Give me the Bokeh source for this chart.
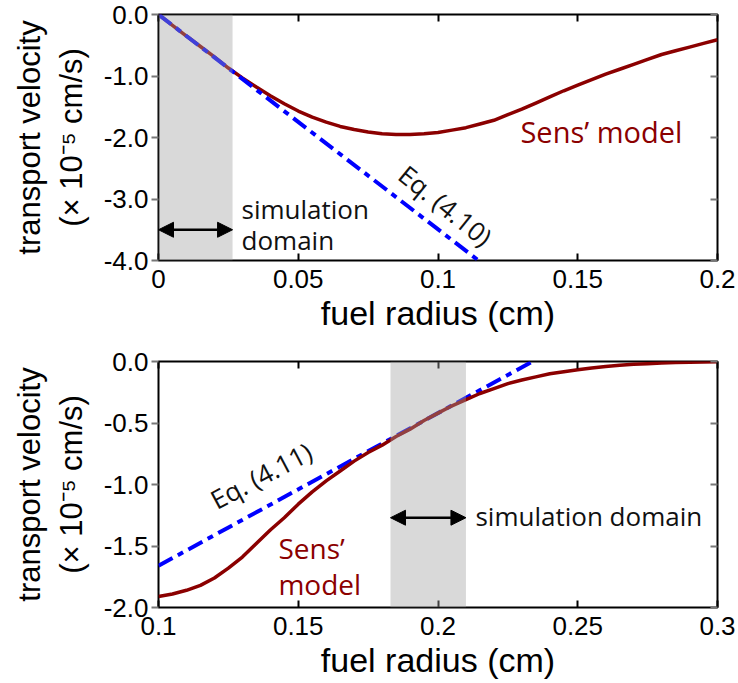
import math
from bokeh.plotting import figure
from bokeh.layouts import column
from bokeh.models import (Range1d, FixedTicker, NumeralTickFormatter, LinearAxis,
                          BoxAnnotation, Arrow, NormalHead)
from bokeh.core.properties import value
from bokeh.embed import file_html
from bokeh.resources import INLINE

# ---------------- upper panel: small radii ----------------
r_top = [0.000, 0.005, 0.010, 0.015, 0.020, 0.025, 0.030, 0.035, 0.040, 0.045, 0.050,
         0.055, 0.060, 0.065, 0.070, 0.075, 0.080, 0.085, 0.090, 0.095, 0.100,
         0.105, 0.110, 0.115, 0.120, 0.125, 0.130, 0.135, 0.140, 0.145, 0.150,
         0.155, 0.160, 0.165, 0.170, 0.175, 0.180, 0.185, 0.190, 0.195, 0.200]
sens_top = [0.00, -0.175, -0.35, -0.52, -0.69, -0.87, -1.03, -1.18, -1.32, -1.45, -1.57,
            -1.67, -1.75, -1.82, -1.87, -1.91, -1.94, -1.95, -1.95, -1.94, -1.92,
            -1.88, -1.84, -1.78, -1.72, -1.63, -1.54, -1.44, -1.34, -1.24, -1.15,
            -1.06, -0.97, -0.89, -0.81, -0.73, -0.65, -0.59, -0.53, -0.47, -0.41]
eq410_r = [0.0, 0.1145]
eq410_v = [0.0, -4.0]
domain_top = [0.0, 0.0265]
x_ticks_top = [0, 0.05, 0.1, 0.15, 0.2]
y_ticks_top = [0, -1, -2, -3, -4]

# ---------------- lower panel: large radii ----------------
r_bot = [0.100, 0.105, 0.110, 0.115, 0.120, 0.125, 0.130, 0.135, 0.140, 0.145, 0.150,
         0.155, 0.160, 0.165, 0.170, 0.175, 0.180, 0.185, 0.190, 0.195, 0.200,
         0.205, 0.210, 0.215, 0.220, 0.225, 0.230, 0.235, 0.240, 0.245, 0.250,
         0.255, 0.260, 0.265, 0.270, 0.275, 0.280, 0.285, 0.290, 0.295, 0.300]
sens_bot = [-1.91, -1.89, -1.86, -1.82, -1.76, -1.68, -1.59, -1.48, -1.37, -1.27, -1.16,
            -1.06, -0.97, -0.89, -0.81, -0.74, -0.68, -0.61, -0.55, -0.48, -0.42,
            -0.36, -0.31, -0.26, -0.22, -0.18, -0.15, -0.125, -0.10, -0.083, -0.067,
            -0.052, -0.040, -0.031, -0.023, -0.018, -0.013, -0.009, -0.006, -0.004, -0.003]
eq411_r = [0.10, 0.2338]
eq411_v = [-1.66, 0.0]
domain_bot = [0.183, 0.21]
x_ticks_bot = [0.1, 0.15, 0.2, 0.25, 0.3]
y_ticks_bot = [0, -0.5, -1.0, -1.5, -2.0]

RED = "#8B0000"
BLUE = "#0000FF"
AXIS_FONT = "Liberation Sans"
NOTE_FONT = "Open Sans"


def make_panel(height, top, bottom, xr, yr, xticks, yticks):
    p = figure(width=738, height=height, x_range=Range1d(*xr), y_range=Range1d(*yr),
               output_backend="svg", toolbar_location=None,
               min_border_left=158, min_border_right=21,
               min_border_top=top, min_border_bottom=bottom)
    p.grid.visible = False
    p.outline_line_color = "black"
    p.outline_line_width = 2
    p.background_fill_color = "white"
    p.border_fill_color = "white"

    xa = p.xaxis[0]
    xa.ticker = FixedTicker(ticks=xticks)
    xa.formatter = NumeralTickFormatter(format="0.[00]")
    xa.major_tick_in = 7
    xa.major_tick_out = 0
    xa.major_tick_line_color = "black"
    xa.major_tick_line_width = 2
    xa.minor_tick_line_color = None
    xa.axis_line_color = None
    xa.major_label_text_font = AXIS_FONT
    xa.major_label_text_font_size = "26px"
    xa.major_label_text_color = "black"
    xa.major_label_standoff = 9
    xa.axis_label = "fuel radius (cm)"
    xa.axis_label_text_font = AXIS_FONT
    xa.axis_label_text_font_size = "34px"
    xa.axis_label_text_font_style = "normal"
    xa.axis_label_text_color = "black"
    xa.axis_label_standoff = 3

    ya = p.yaxis[0]
    ya.ticker = FixedTicker(ticks=yticks)
    ya.formatter = NumeralTickFormatter(format="0.0")
    ya.major_tick_in = 0
    ya.major_tick_out = 7
    ya.major_tick_line_color = "#777777"
    ya.major_tick_line_width = 2
    ya.minor_tick_line_color = None
    ya.axis_line_color = None
    ya.major_label_text_font = AXIS_FONT
    ya.major_label_text_font_size = "26px"
    ya.major_label_text_color = "black"
    ya.major_label_standoff = 3
    ya.axis_label = "transport velocity\n(\u00d7 10\u207b\u2075 cm/s)"
    ya.axis_label_text_font = AXIS_FONT
    ya.axis_label_text_font_size = "31px"
    ya.axis_label_text_font_style = "normal"
    ya.axis_label_text_color = "black"
    ya.axis_label_standoff = 12

    # mirrored tick marks on the top and right edges of the frame (no labels)
    top_axis = LinearAxis(ticker=FixedTicker(ticks=xticks), axis_line_color=None,
                          major_tick_in=7, major_tick_out=0, major_tick_line_width=2,
                          major_tick_line_color="black", minor_tick_line_color=None,
                          major_label_overrides={t: "" for t in xticks},
                          major_label_standoff=0)
    right_axis = LinearAxis(ticker=FixedTicker(ticks=yticks), axis_line_color=None,
                            major_tick_in=7, major_tick_out=0, major_tick_line_width=2,
                            major_tick_line_color="#777777", minor_tick_line_color=None,
                            major_label_overrides={t: "" for t in yticks},
                            major_label_standoff=0)
    p.add_layout(top_axis, "above")
    p.add_layout(right_axis, "right")
    return p


def add_domain(p, dom, y_arrow):
    p.add_layout(BoxAnnotation(left=dom[0], right=dom[1], fill_color="#a0a0a0",
                               fill_alpha=0.4, line_color=None))
    p.add_layout(Arrow(start=NormalHead(size=15, fill_color="black", line_color="black"),
                       end=NormalHead(size=15, fill_color="black", line_color="black"),
                       x_start=dom[0], y_start=y_arrow, x_end=dom[1], y_end=y_arrow,
                       line_width=2.5, line_color="black"))


# ---------- upper panel ----------
p1 = make_panel(340, 14, 80, (0, 0.2), (-4, 0), x_ticks_top, y_ticks_top)
p1.line(r_top, sens_top, line_color=RED, line_width=3.5)
p1.line(eq410_r, eq410_v, line_color=BLUE, line_width=4, line_dash="16 6 6 6")
add_domain(p1, domain_top, -3.5)

p1.text(x=[0.0297, 0.0297], y=[-3.17, -3.66], text=["simulation", "domain"],
        text_font=value(NOTE_FONT), text_font_size="26px", text_color="#111111",
        text_align="left", text_baseline="middle")
p1.text(x=[0.1295], y=[-1.90], text=["Sens\u2019 model"],
        text_font=value(NOTE_FONT), text_font_size="29px", text_color=RED,
        text_align="left", text_baseline="middle")
p1.text(x=[0.1027], y=[-3.106], text=["Eq. (4.10)"], angle=[math.radians(-39)],
        text_font=value(NOTE_FONT), text_font_size="26px", text_color="#111111",
        text_align="center", text_baseline="middle")

# ---------- lower panel ----------
p2 = make_panel(343, 21, 76, (0.1, 0.3), (-2, 0), x_ticks_bot, y_ticks_bot)
p2.line(eq411_r, eq411_v, line_color=BLUE, line_width=4, line_dash="16 6 6 6")
p2.line(r_bot, sens_bot, line_color=RED, line_width=3.5)
add_domain(p2, domain_bot, -1.27)

p2.text(x=[0.2134], y=[-1.255], text=["simulation domain"],
        text_font=value(NOTE_FONT), text_font_size="26px", text_color="#111111",
        text_align="left", text_baseline="middle")
p2.text(x=[0.1429, 0.1429], y=[-1.52, -1.81], text=["Sens\u2019", "model"],
        text_font=value(NOTE_FONT), text_font_size="28px", text_color=RED,
        text_align="left", text_baseline="middle")
p2.text(x=[0.1367], y=[-0.927], text=["Eq. (4.11)"], angle=[math.radians(28)],
        text_font=value(NOTE_FONT), text_font_size="26px", text_color="#111111",
        text_align="center", text_baseline="middle")

layout = column(p1, p2, spacing=0)
open("out.html", "w").write(file_html(layout, INLINE))
